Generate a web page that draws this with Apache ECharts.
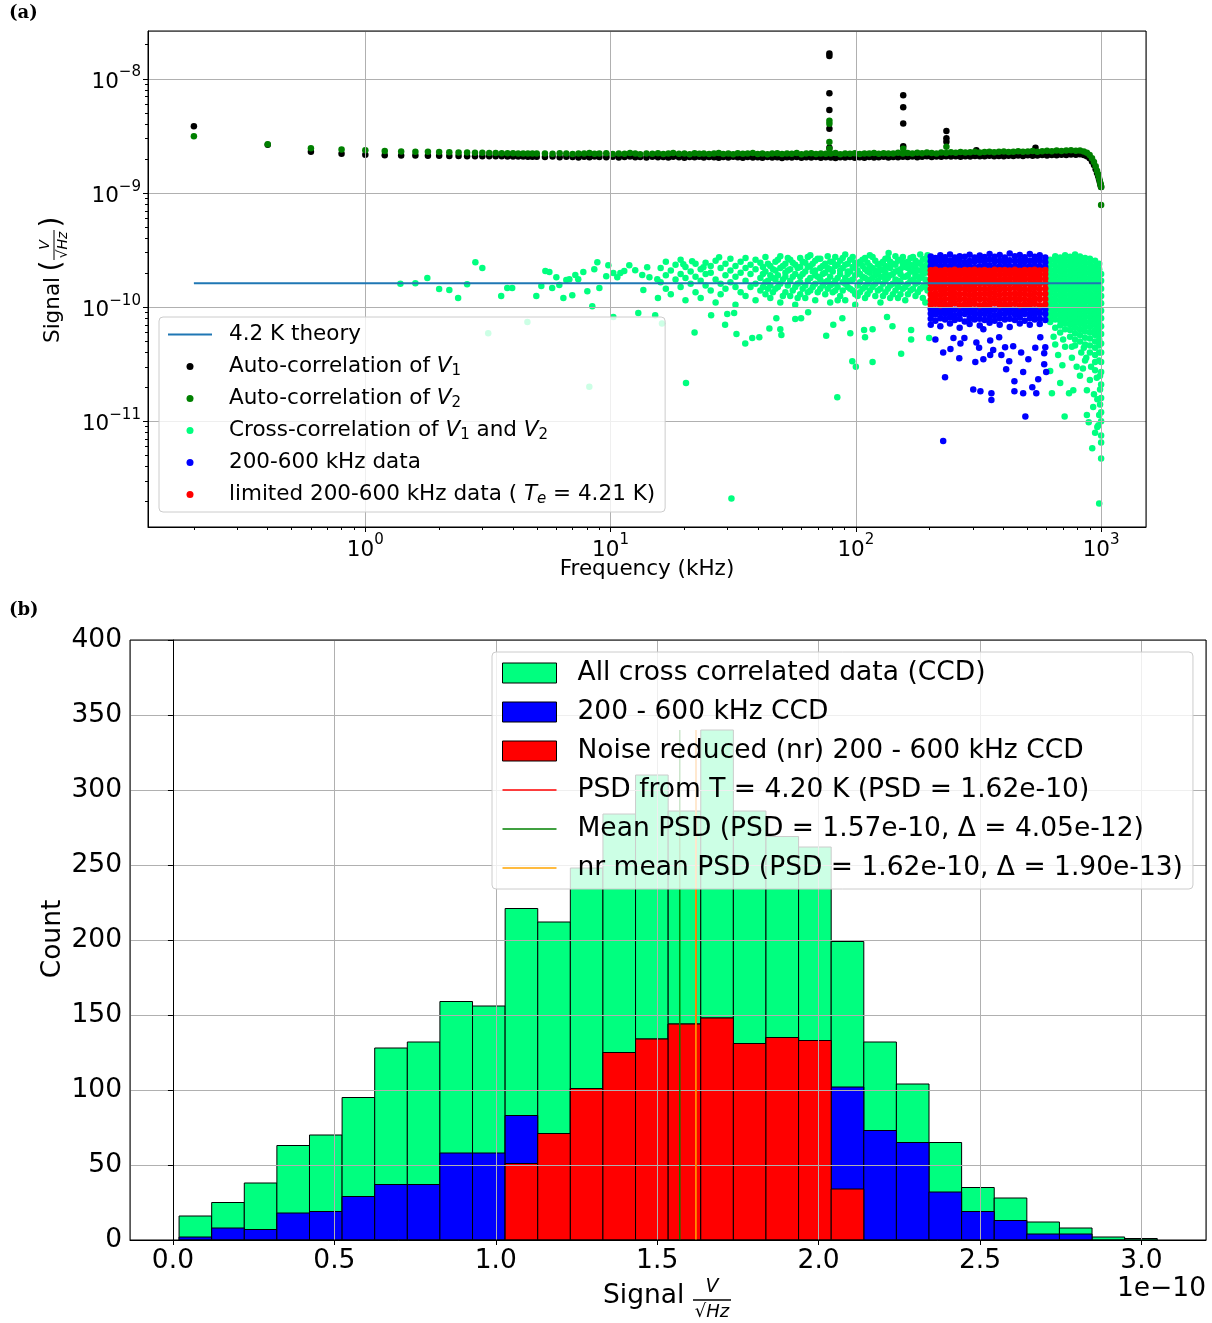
<!DOCTYPE html>
<html><head><meta charset="utf-8">
<script src="https://cdn.jsdelivr.net/npm/echarts@6/dist/echarts.min.js"></script>
<style>html,body{margin:0;padding:0;background:#fff}#c{width:1212px;height:1323px}</style>
</head><body><div id="c"></div><script>
// ---------------- DATA ----------------
// Panel (a): frequencies in kHz, auto-correlation in 1e-9 V/sqrt(Hz)
const autoFreq = [0.2,0.4,0.6,0.8,1.0,1.2,1.4,1.6,1.8,2.0,2.2,2.4,2.6,2.8,3.0,3.2,3.4,3.6,3.8,4.0,4.2,4.4,4.6,4.8,5.0,
5.4,5.8,6.2,6.6,7.0,7.4,7.8,8.2,8.6,9.0,
9.6,10.2,10.8,11.4,12,12.6,13.2,14,14.8,15.6,
16.4,17.2,18,19,20,21,22,23,24,25.2,
26.4,27.6,28.8,30.2,31.6,33,34.6,36.2,38,39.8,
41.6,43.6,45.6,47.8,50,52.4,54.8,57.4,60,62.8,
65.8,68.8,72,75.4,79,82.6,86.4,90.4,94.6,99,
103.6,108.4,113.4,118.6,124,129.8,135.8,142,148.6,155.4,
162.6,170,178,186.2,194.8,203.8,213.2,223,233.4,244.2,
255.4,267.2,279.6,292.6,306,320,334.8,350.2,366.4,383.2,
401,419.4,438.8,459,480.2,502.4,525.6,549.8,575.2,601.8,
629.6,658.6,689,720.8,754,788.8,820,850,875,898,
918,935,950,962,972,980,987,993,997,1000];
const autoV1 = [3.85,2.66,2.30,2.21,2.17,2.15,2.14,2.14,2.13,2.13,2.12,2.12,2.11,2.11,2.11,2.10,2.10,2.10,2.09,2.09,2.09,2.09,2.08,2.08,2.08,
2.07,2.09,2.06,2.08,2.07,2.05,2.08,2.06,2.09,2.07,
2.06,2.08,2.05,2.07,2.09,2.06,2.07,2.05,2.08,2.06,
2.07,2.05,2.08,2.06,2.04,2.07,2.06,2.08,2.05,2.07,
2.06,2.04,2.07,2.05,2.08,2.06,2.04,2.07,2.05,2.06,
2.04,2.07,2.05,2.06,2.03,2.06,2.05,2.07,2.04,2.06,
2.05,2.07,2.04,2.06,2.05,2.03,2.06,2.05,2.07,2.04,
2.06,2.04,2.07,2.05,2.06,2.08,2.05,2.07,2.06,2.08,
2.07,2.09,2.06,2.08,2.10,2.07,2.09,2.08,2.10,2.09,
2.10,2.08,2.11,2.09,2.12,2.10,2.11,2.13,2.10,2.12,
2.11,2.13,2.12,2.14,2.12,2.15,2.13,2.14,2.16,2.14,
2.16,2.15,2.17,2.16,2.18,2.17,2.19,2.16,2.10,2.02,
1.89,1.76,1.62,1.50,1.41,1.33,1.26,1.20,1.16,1.13];
const autoV2 = [3.15,2.68,2.48,2.41,2.37,2.34,2.32,2.31,2.30,2.29,2.28,2.27,2.27,2.26,2.26,2.25,2.25,2.24,2.24,2.24,2.23,2.23,2.23,2.23,2.23,
2.23,2.21,2.24,2.22,2.20,2.23,2.22,2.25,2.21,2.22,
2.24,2.20,2.23,2.21,2.25,2.22,2.19,2.23,2.21,2.24,
2.20,2.23,2.25,2.21,2.22,2.19,2.24,2.21,2.23,2.20,
2.22,2.25,2.20,2.23,2.19,2.24,2.21,2.22,2.25,2.20,
2.23,2.19,2.22,2.24,2.20,2.23,2.21,2.25,2.19,2.22,
2.24,2.20,2.23,2.21,2.22,2.25,2.19,2.23,2.21,2.24,
2.20,2.23,2.22,2.25,2.21,2.24,2.22,2.23,2.26,2.22,
2.25,2.23,2.26,2.24,2.27,2.25,2.23,2.27,2.25,2.28,
2.26,2.29,2.27,2.28,2.30,2.27,2.29,2.31,2.28,2.30,
2.32,2.29,2.31,2.33,2.30,2.32,2.34,2.31,2.33,2.35,
2.33,2.36,2.34,2.36,2.37,2.35,2.36,2.32,2.26,2.16,
2.02,1.87,1.72,1.57,1.46,1.37,1.29,1.22,1.17,1.13];
// isolated auto-correlation points [kHz, 1e-9]
const spikesV1 = [[78,16.8],[78,15.9],[78,7.5],[78,5.35],[78,3.66],[78,2.5],[156,7.2],[156,5.65],[156,4.08],[156,2.58],[234,3.5],[234,3.02],[234,2.82],[310,2.38],[540,2.5]];
const spikesV2 = [[78,4.3],[78,4.05],[78,2.8],[78,2.45],[156,2.45],[234,2.55],[1000,0.785]];

// theory line (kHz, V/sqrt(Hz))
const theoryFreq = [0.2, 1000];
const theoryPSD = 1.62e-10;

// cross-correlation, all values in 1e-10 V/sqrt(Hz)
const crossPoints = [[1.39,1.6],[1.6,1.62],[1.79,1.8],[2.0,1.44],[2.2,1.41],[2.39,1.2],[2.6,1.59],[2.81,2.48],[3.0,2.2],[3.17,0.59],[3.58,1.25],[3.79,1.47],[3.97,1.47],[4.58,0.74],[4.98,1.25],[5.22,1.53],[5.42,2.07],[5.63,2.03],[5.78,1.47],[6.01,1.83],[6.18,1.56],[6.42,1.2],[6.6,1.73],[6.79,1.76],[6.98,1.27],[7.18,1.91],[7.38,1.76],[7.74,2.03],[8.04,1.38],[8.19,0.2],[8.42,1.02],[8.58,2.15],[8.83,2.48],[9.0,1.47],[9.6,1.87],[9.79,2.33],[10.26,1.99],[10.26,0.82],[10.65,1.83],[10.96,1.99],[11.37,2.07],[11.92,2.33],[12.6,2.11],[12.97,0.89],[13.46,1.91],[13.6,1.41],[14.1,2.24],[14.4,1.83],[15.2,0.85],[15.5,1.76],[15.6,1.2],[16.2,0.72],[19.8,2.38],[20.3,0.216],[21.5,2.53],[22,0.6],[23.9,2.24],[25.7,0.85],[27.7,2.74],[29.3,0.7],[29.9,0.87],[31.1,0.021],[31.9,0.89],[32.6,0.58],[35.4,0.48],[37.8,0.535],[40.4,0.545],[44.4,0.65],[47.4,0.8],[49.2,0.64],[49.7,0.57],[56.6,0.785],[59.8,0.8],[63.9,0.9],[75.7,0.56],[80.9,0.7],[84,0.162],[88.1,0.8],[94.9,0.59],[96.7,0.336],[100,0.3],[108,0.63],[109,0.545],[117,0.33],[117,0.64],[134,0.82],[136,2.98],[141,0.68],[153,0.39],[168,0.52],[168,0.63],[199,0.535],
[620,0.275],[630,0.176],[681,0.216],[740,0.176],[710,0.11],[770,0.187],[875,0.187],[843,0.29],[795,0.3],[935,0.172],[965,0.156],[928,0.133],[875,0.113],[982,0.113],[890,0.098],[945,0.079],[920,0.058],[1000,0.047],[982,0.019],[975,0.092],[965,0.089],[900,0.23],[820,0.25],[668,0.38],[713,0.45],[783,0.46],[860,0.34],[945,0.28],[990,0.25],[990,0.19],[990,0.14],[760,0.36],[695,0.31],[650,0.47],[640,0.55],[700,0.52],[760,0.45],[830,0.4],[870,0.36],[960,0.24],[910,0.3],[850,0.44]];
const crossColumns = [
[16,[2.2,1.65]],[16.8,[1.9,1.45,2.5]],[17.6,[2.1,1.3]],[18.4,[1.75,2.35]],[19.3,[2.6,1.5,1.95]],[20.2,[1.8,2.25,1.15]],[21.2,[2.05,1.6]],[22.2,[2.4,1.35,1.85]],[23.3,[1.7,2.15,1.2]],[24.4,[2.45,1.55,1.95]],
[25.6,[2.0,1.4,2.3]],[26.8,[1.75,2.55,1.1]],[28.1,[2.2,1.6,1.3]],[29.4,[1.9,2.4,1.45]],[30.8,[2.1,1.65,2.65]],[32.3,[1.5,2.3,1.85,1.05]],[33.9,[2.0,1.35,2.5]],[35.5,[1.7,2.2,1.25,2.7]],[37.2,[1.95,1.5,2.35]],[39,[2.15,1.6,1.15,2.6]],
[40.8,[1.8,2.45,1.4]],[42.8,[2.05,1.3,2.75,1.65]],[44.8,[1.9,2.3,1.2,1.55]],[47,[2.5,1.75,1.45,2.1]],[49.2,[1.6,2.2,2.8,1.1]],[51.6,[2.0,1.35,1.85,2.4]],[54,[1.7,2.6,1.25,2.15]],[56.6,[1.95,1.5,2.35,1.05]],[59.3,[2.25,1.65,2.7,1.3,1.85]],[62.2,[1.55,2.05,2.45,1.2]],
[65.2,[1.8,2.3,1.4,2.85]],[68.3,[2.1,1.6,1.15,2.55,1.9]],[71.6,[1.45,2.2,1.75,2.65]],[75,[2.0,1.3,2.4,1.65]],[78.6,[1.85,2.5,1.1,1.55,2.15]],[82.4,[2.3,1.7,1.4,2.75]],[86.3,[1.95,1.25,2.1,2.55]],[90.5,[1.6,2.35,1.8,1.15,2.9]],[94.8,[2.05,1.45,2.6,1.7]],[99.4,[1.9,2.2,1.3,2.45,1.05]],
[104,[1.65,2.5,1.95,1.35]],[109,[2.15,1.5,2.7,1.8,1.2]],[114,[1.75,2.3,1.4,2.0,2.85]],[120,[2.1,1.6,2.55,1.25,1.9]],[126,[1.45,2.4,1.85,2.15,1.1]],[132,[2.0,1.7,2.65,1.35,2.3]],[138,[1.55,2.2,1.9,2.5,1.2]],[145,[2.35,1.75,1.4,2.05,2.8]],[152,[1.65,2.15,2.6,1.3,1.95]],[159,[2.45,1.5,1.85,2.25,1.15]],
[167,[1.7,2.05,2.7,1.4,2.35]],[175,[2.2,1.6,1.9,2.55,1.25]],[183,[1.8,2.4,1.45,2.1,2.9]],[192,[2.0,1.55,2.3,1.75,2.65,1.1]],
[41.8,[1.95,1.5,2.25]],[43.8,[1.7,2.4,1.45]],[45.9,[2.15,1.35,1.8]],[48.1,[1.9,2.6,1.5]],[50.4,[1.75,2.3,1.25]],[52.8,[2.1,1.55,2.7]],[55.3,[1.85,1.4,2.45]],[57.9,[2.2,1.6,1.2]],[60.7,[1.95,2.5,1.45]],[63.7,[1.7,2.25,1.35,2.75]],
[66.7,[2.05,1.5,2.4]],[69.9,[1.85,2.65,1.35]],[73.3,[2.3,1.55,1.95]],[76.8,[1.7,2.2,2.8,1.45]],[80.5,[2.05,1.35,2.5,1.6]],[84.3,[1.8,2.35,1.5,1.15]],[88.4,[2.2,1.65,2.7,1.4]],[92.6,[1.95,1.5,2.4,2.05]],[97.1,[1.75,2.25,2.75,1.4]],[101.7,[2.1,1.55,2.4,1.25]],
[106.5,[1.85,2.3,1.45,2.6]],[111.5,[2.05,1.6,2.45,1.3]],[117,[1.8,2.2,2.75,1.5]],[123,[2.35,1.7,2.0,1.4]],[129,[1.6,2.1,2.5,1.25,1.85]],[135,[2.25,1.8,1.45,2.7]],[141.5,[1.95,2.4,1.6,1.3]],[148.5,[2.1,1.7,2.55,1.5,1.2]],[155.5,[1.85,2.35,2.75,1.45]],[163,[2.2,1.6,2.5,1.3,1.9]],
[171,[1.75,2.3,1.45,2.75,2.05]],[179,[2.1,1.65,2.45,1.35,1.85]],[187.5,[1.95,2.6,1.5,2.25,1.2]],[196,[2.15,1.7,2.5,1.4,2.85]],
[620,[2.6,2.35,2.12,1.93,1.76,1.6,1.46,1.33,1.2,1.09,0.99,0.9,0.82,0.74]],
[650,[2.8,2.52,2.28,2.07,1.88,1.71,1.55,1.41,1.28,1.16,1.05,0.95,0.86,0.78,0.66]],
[681,[2.72,2.47,2.24,2.03,1.84,1.67,1.52,1.38,1.25,1.13,1.02,0.93,0.84,0.76,0.69,0.6]],
[713,[2.85,2.57,2.33,2.11,1.91,1.73,1.57,1.43,1.3,1.18,1.07,0.97,0.88,0.8,0.72,0.64]],
[747,[2.76,2.5,2.27,2.06,1.87,1.7,1.54,1.4,1.27,1.15,1.04,0.94,0.85,0.77,0.7,0.63,0.55]],
[783,[2.9,2.62,2.37,2.15,1.95,1.77,1.6,1.45,1.32,1.2,1.09,0.99,0.9,0.81,0.73,0.66,0.59,0.52]],
[820,[2.78,2.52,2.29,2.08,1.89,1.71,1.55,1.41,1.28,1.16,1.05,0.95,0.86,0.78,0.71,0.64,0.57,0.5]],
[860,[2.7,2.45,2.22,2.01,1.82,1.65,1.5,1.36,1.23,1.12,1.01,0.92,0.83,0.75,0.68,0.61,0.54,0.47]],
[900,[2.65,2.4,2.17,1.97,1.79,1.62,1.47,1.33,1.21,1.1,1.0,0.9,0.82,0.74,0.67,0.6,0.53,0.46,0.4]],
[945,[2.55,2.3,2.08,1.89,1.71,1.55,1.41,1.28,1.16,1.05,0.95,0.86,0.78,0.7,0.63,0.57,0.5,0.44,0.38,0.33]],
[982,[2.4,2.15,1.94,1.75,1.58,1.43,1.3,1.18,1.07,0.97,0.88,0.8,0.72,0.65,0.58,0.52,0.46,0.4,0.34]],
[1000,[1.95,1.7,1.45,1.25,1.08,0.93,0.8,0.68,0.58,0.48,0.4,0.33,0.27,0.21,0.16,0.12,0.1,0.075,0.065]]];
// 200-600 kHz data (1e-10)
const bandColumns = [
[202,[2.28,2.52,2.78,0.97,0.88,0.79,0.7]],[211,[2.24,2.46,2.7,0.95,0.86,0.76]],[221,[2.3,2.55,2.85,0.98,0.89,0.8,0.68]],[231,[2.26,2.5,2.74,0.96,0.87,0.78]],
[242,[2.29,2.57,2.9,0.97,0.9,0.81,0.72]],[253,[2.23,2.48,2.72,0.95,0.85,0.77]],[265,[2.31,2.58,2.8,0.98,0.88,0.79,0.66]],[278,[2.25,2.47,2.76,0.96,0.87,0.75]],
[291,[2.3,2.54,2.88,0.97,0.89,0.8,0.71]],[305,[2.24,2.5,2.73,0.95,0.86,0.78]],[320,[2.28,2.56,2.83,0.98,0.88,0.79,0.69]],[335,[2.26,2.49,2.75,0.96,0.87,0.77]],
[351,[2.32,2.6,2.92,0.97,0.9,0.81,0.73]],[368,[2.25,2.51,2.77,0.95,0.85,0.76]],[386,[2.29,2.55,2.86,0.98,0.88,0.8,0.7]],[405,[2.23,2.47,2.72,0.96,0.87,0.78]],
[424,[2.3,2.58,2.95,0.97,0.89,0.79,0.67]],[445,[2.27,2.52,2.79,0.95,0.86,0.77]],[466,[2.31,2.57,2.87,0.98,0.9,0.81,0.72]],[488,[2.24,2.49,2.74,0.96,0.87,0.76]],
[512,[2.29,2.56,2.93,0.97,0.88,0.8,0.7]],[536,[2.26,2.5,2.76,0.95,0.86,0.78]],[562,[2.3,2.58,2.85,0.98,0.89,0.79,0.71]],[592,[2.25,2.48,2.72,0.96,0.87,0.77]]];
const bandPoints = [[227,0.067],[231,0.243],[227,0.40],[243,0.43],[264,0.357],[211,0.52],[250,0.535],[277,0.535],[301,0.19],[322,0.183],[357,0.176],[357,0.153],[307,0.33],[331,0.35],[353,0.38],[392,0.38],[410,0.286],[443,0.224],[443,0.183],[481,0.176],[491,0.11],[524,0.198],[544,0.176],[554,0.233],[481,0.27],[422,0.336],[505,0.35],[586,0.316],[597,0.27],[592,0.445],[539,0.44],[472,0.40],[438,0.455],[406,0.445],[363,0.42],[331,0.64],[353,0.51],[384,0.545],[318,0.44],[267,0.48],[310,0.49],[565,0.545],[586,0.395]];
// limited 200-600 kHz data (1e-10)
const limitedColumns = [
[202,[1.05,1.16,1.29,1.44,1.6,1.76,1.93,2.11]],[211,[1.07,1.19,1.32,1.47,1.62,1.79,1.96,2.13]],[221,[1.04,1.15,1.28,1.42,1.57,1.73,1.9,2.08]],[231,[1.06,1.18,1.31,1.45,1.61,1.77,1.94,2.12]],
[242,[1.05,1.17,1.3,1.43,1.59,1.75,1.92,2.1]],[253,[1.08,1.2,1.33,1.48,1.63,1.8,1.97,2.13]],[265,[1.04,1.16,1.29,1.44,1.58,1.74,1.91,2.09]],[278,[1.06,1.18,1.31,1.46,1.62,1.78,1.95,2.12]],
[291,[1.05,1.15,1.28,1.42,1.58,1.75,1.92,2.11]],[305,[1.07,1.19,1.32,1.46,1.61,1.77,1.94,2.13]],[320,[1.04,1.17,1.3,1.44,1.6,1.76,1.93,2.1]],[335,[1.06,1.18,1.31,1.45,1.62,1.79,1.96,2.12]],
[351,[1.05,1.16,1.29,1.43,1.59,1.75,1.91,2.09]],[368,[1.08,1.2,1.33,1.47,1.63,1.78,1.95,2.13]],[386,[1.04,1.15,1.28,1.42,1.57,1.74,1.92,2.11]],[405,[1.06,1.18,1.31,1.46,1.61,1.77,1.94,2.12]],
[424,[1.05,1.17,1.3,1.44,1.6,1.76,1.93,2.1]],[445,[1.07,1.19,1.32,1.47,1.62,1.79,1.96,2.13]],[466,[1.04,1.16,1.29,1.43,1.58,1.75,1.91,2.09]],[488,[1.06,1.18,1.31,1.45,1.61,1.77,1.94,2.12]],
[512,[1.05,1.15,1.28,1.42,1.59,1.76,1.93,2.11]],[536,[1.07,1.19,1.33,1.48,1.63,1.8,1.97,2.13]],[562,[1.04,1.17,1.3,1.44,1.6,1.76,1.92,2.1]],[592,[1.06,1.18,1.31,1.46,1.62,1.78,1.95,2.12]]];

// Panel (b): histogram (signal in 1e-10 V/sqrt(Hz))
const binEdges = [0.019,0.120,0.221,0.322,0.423,0.524,0.625,0.726,0.827,0.928,1.029,1.130,1.231,1.332,1.433,1.534,1.635,1.736,1.837,1.938,2.039,2.140,2.241,2.342,2.443,2.544,2.645,2.746,2.847,2.948,3.049];
const countsAll = [16,25,38,63,70,95,128,132,159,156,221,212,248,284,310,286,340,286,269,262,199,132,104,65,35,28,12,8,2,1];
const countsBand = [2,8,7,18,19,29,37,37,58,58,83,71,101,125,134,144,148,131,135,133,102,73,65,32,19,13,4,4,0,0];
const countsLimited = [0,0,0,0,0,0,0,0,0,0,51,71,101,125,134,144,148,131,135,133,34,0,0,0,0,0,0,0,0,0];
const psdTheory = 1.62;   // 1e-10
const psdMean = 1.57;
const psdNrMean = 1.62;

// ---------------- CHART ----------------
const FONT = 'DejaVu Sans';
const colPts = (cols, unit) => cols.flatMap(([f, vals]) => vals.map(v => [f, v * unit]));
const pairPts = (list, unit) => list.map(([f, v]) => [f, v * unit]);
const autoPts = (vals) => autoFreq.map((f, i) => [f, vals[i] * 1e-9]);

const minorX = [], minorY = [];
for (let d = -1; d <= 3; d++) for (let k = 2; k <= 9; k++) minorX.push(k * Math.pow(10, d));
for (let d = -12; d <= -8; d++) for (let k = 2; k <= 9; k++) minorY.push(k * Math.pow(10, d));

const supRich = (fs) => ({
  b: {fontFamily: FONT, fontSize: fs, lineHeight: 28, verticalAlign: 'bottom', color: '#000'},
  s: {fontFamily: FONT, fontSize: fs * 0.7, lineHeight: 14, verticalAlign: 'top', color: '#000'}
});
const logLabel = v => {
  const e = Math.log10(v), r = Math.round(e);
  if (Math.abs(e - r) > 1e-6) return '';
  return '{b|10}{s|' + (r < 0 ? '\u2212' : '') + Math.abs(r) + '}';
};

const N = {
  th: '4.2 K theory', v1: 'Auto-correlation of V1', v2: 'Auto-correlation of V2',
  cc: 'Cross-correlation of V1 and V2', bd: '200-600 kHz data', lm: 'limited 200-600 kHz data',
  hA: 'All cross correlated data (CCD)', hB: '200 - 600 kHz CCD', hL: 'Noise reduced (nr) 200 - 600 kHz CCD',
  lT: 'PSD from T = 4.20 K (PSD = 1.62e-10)', lM: 'Mean PSD (PSD = 1.57e-10, \u0394 = 4.05e-12)', lN: 'nr mean PSD (PSD = 1.62e-10, \u0394 = 1.90e-13)'
};
const topLabels = {};
topLabels[N.th] = '4.2 K theory';
topLabels[N.v1] = 'Auto-correlation of {i|V}{sub|1}';
topLabels[N.v2] = 'Auto-correlation of {i|V}{sub|2}';
topLabels[N.cc] = 'Cross-correlation of {i|V}{sub|1} and {i|V}{sub|2}';
topLabels[N.bd] = '200-600 kHz data';
topLabels[N.lm] = 'limited 200-600 kHz data ( {i|T}{isub|e} = 4.21 K)';

const scatter = (name, data, color, z) => ({
  type: 'scatter', name, xAxisIndex: 0, yAxisIndex: 0, data, symbol: 'circle', symbolSize: 6.5,
  itemStyle: {color, opacity: 1}, z, progressive: 0, large: false, silent: true, emphasis: {disabled: true}
});

const histSeries = (name, counts, color, z) => ({
  type: 'custom', name, xAxisIndex: 1, yAxisIndex: 1, z, silent: true,
  itemStyle: {color, borderColor: '#000', borderWidth: 1},
  data: counts.map((c, i) => [binEdges[i], binEdges[i + 1], c]).filter(d => d[2] > 0),
  encode: {x: [0, 1], y: 2},
  renderItem: (params, api) => {
    const p0 = api.coord([api.value(0), 0]);
    const p1 = api.coord([api.value(1), api.value(2)]);
    return {type: 'rect', shape: {x: p0[0], y: p1[1], width: p1[0] - p0[0], height: p0[1] - p1[1]},
      style: {fill: color, stroke: '#000', lineWidth: 1}};
  }
});
const maxCount = Math.max(...countsAll);
const vline = (name, x, color, z) => ({
  type: 'line', name, xAxisIndex: 1, yAxisIndex: 1, data: [[x, 0], [x, maxCount]], symbol: 'none', z,
  lineStyle: {color, width: 1.5}, itemStyle: {color}, silent: true, animation: false
});

const axisCommon = {
  axisLine: {show: true, lineStyle: {color: '#000', width: 1}},
  axisTick: {show: true, inside: false, length: 5, lineStyle: {color: '#000', width: 1}},
  splitLine: {show: true, lineStyle: {color: '#b0b0b0', width: 1}}
};
const lineIconTop = 'path://M0,0H44V2H0Z';
const lineIconBottom = 'path://M0,0H54V1.5H0Z';

const option = {
  animation: false,
  backgroundColor: '#fff',
  grid: [
    {left: 148, top: 31, width: 998, height: 496, show: true, borderColor: '#000', borderWidth: 1, backgroundColor: 'transparent', z: 6},
    {left: 130, top: 640, width: 1076, height: 600, show: true, borderColor: '#000', borderWidth: 1, backgroundColor: 'transparent', z: 6}
  ],
  xAxis: [
    Object.assign({}, axisCommon, {gridIndex: 0, type: 'log', logBase: 10, min: 0.13, max: 1524, position: 'bottom', z: 3,
      axisLabel: {formatter: logLabel, margin: 6, rich: supRich(21.5), showMinLabel: false, showMaxLabel: false}}),
    Object.assign({}, axisCommon, {gridIndex: 1, type: 'value', min: -0.133, max: 3.2, splitNumber: 7, position: 'bottom', z: 3,
      axisLabel: {formatter: v => v.toFixed(1), margin: 8, color: '#000', fontFamily: FONT, fontSize: 26.5, showMinLabel: false, showMaxLabel: false}}),
    {gridIndex: 0, type: 'log', logBase: 10, min: 0.13, max: 1524, position: 'bottom', z: 3,
      axisLine: {show: false}, axisLabel: {show: false}, splitLine: {show: false},
      axisTick: {show: true, length: 3, lineStyle: {color: '#000'}, customValues: minorX}}
  ],
  yAxis: [
    Object.assign({}, axisCommon, {gridIndex: 0, type: 'log', logBase: 10, min: 1.18e-12, max: 2.64e-8, position: 'left', z: 3,
      axisLabel: {formatter: logLabel, margin: 7, rich: supRich(21.5), showMinLabel: false, showMaxLabel: false}}),
    Object.assign({}, axisCommon, {gridIndex: 1, type: 'value', min: 0, max: 400, interval: 50, position: 'left', z: 3,
      axisLabel: {margin: 8, color: '#000', fontFamily: FONT, fontSize: 26.5}}),
    {gridIndex: 0, type: 'log', logBase: 10, min: 1.18e-12, max: 2.64e-8, position: 'left', z: 3,
      axisLine: {show: false}, axisLabel: {show: false}, splitLine: {show: false},
      axisTick: {show: true, length: 3, lineStyle: {color: '#000'}, customValues: minorY}}
  ],
  legend: [
    {orient: 'vertical', left: 159, top: 317, padding: [5, 10, 5, 9], itemWidth: 44, itemHeight: 7, itemGap: 7,
      selectedMode: false, backgroundColor: 'rgba(255,255,255,0.8)', borderColor: '#cccccc', borderWidth: 1, borderRadius: 4, z: 8,
      data: [{name: N.th, icon: lineIconTop}, {name: N.v1, icon: 'circle'}, {name: N.v2, icon: 'circle'}, {name: N.cc, icon: 'circle'}, {name: N.bd, icon: 'circle'}, {name: N.lm, icon: 'circle'}],
      formatter: name => topLabels[name],
      textStyle: {fontFamily: FONT, fontSize: 21.5, color: '#000', lineHeight: 25, padding: [0, 0, 0, 12],
        rich: {i: {fontFamily: FONT, fontStyle: 'italic', fontSize: 21.5, lineHeight: 25},
               sub: {fontFamily: FONT, fontSize: 15, lineHeight: 12, verticalAlign: 'bottom'},
               isub: {fontFamily: FONT, fontStyle: 'italic', fontSize: 15, lineHeight: 12, verticalAlign: 'bottom'}}}},
    {orient: 'vertical', left: 492, top: 652, padding: [6, 10, 6, 10], itemWidth: 54, itemHeight: 20, itemGap: 9,
      selectedMode: false, backgroundColor: 'rgba(255,255,255,0.8)', borderColor: '#cccccc', borderWidth: 1, borderRadius: 4, z: 8,
      data: [{name: N.hA, icon: 'rect', itemStyle: {borderColor: '#000', borderWidth: 1}},
             {name: N.hB, icon: 'rect', itemStyle: {borderColor: '#000', borderWidth: 1}},
             {name: N.hL, icon: 'rect', itemStyle: {borderColor: '#000', borderWidth: 1}},
             {name: N.lT, icon: lineIconBottom}, {name: N.lM, icon: lineIconBottom}, {name: N.lN, icon: lineIconBottom}],
      textStyle: {fontFamily: FONT, fontSize: 26.5, color: '#000', lineHeight: 30, padding: [0, 0, 0, 16]}}
  ],
  series: [
    {type: 'line', name: N.th, xAxisIndex: 0, yAxisIndex: 0, data: theoryFreq.map(f => [f, theoryPSD]), symbol: 'none', z: 4,
      lineStyle: {color: '#1f77b4', width: 2}, itemStyle: {color: '#1f77b4'}, silent: true},
    scatter(N.v1, autoPts(autoV1).concat(pairPts(spikesV1, 1e-9)), '#000000', 2),
    scatter(N.v2, autoPts(autoV2).concat(pairPts(spikesV2, 1e-9)), '#008000', 2),
    scatter(N.cc, pairPts(crossPoints, 1e-10).concat(colPts(crossColumns, 1e-10)), '#00ff7f', 2),
    scatter(N.bd, colPts(bandColumns, 1e-10).concat(pairPts(bandPoints, 1e-10)), '#0000ff', 2),
    scatter(N.lm, colPts(limitedColumns, 1e-10), '#ff0000', 2),
    histSeries(N.hA, countsAll, '#00ff7f', 1),
    histSeries(N.hB, countsBand, '#0000ff', 1),
    histSeries(N.hL, countsLimited, '#ff0000', 1),
    vline(N.lT, psdTheory, '#ff0000', 4),
    vline(N.lM, psdMean, '#008000', 4),
    vline(N.lN, psdNrMean, '#ffa500', 4)
  ],
  graphic: [
    {type: 'text', left: 9, top: 4, style: {text: '(a)', font: 'bold 18px "DejaVu Serif"', fill: '#000'}},
    {type: 'text', left: 9, top: 601, style: {text: '(b)', font: 'bold 18px "DejaVu Serif"', fill: '#000'}},
    {type: 'text', x: 647, y: 569, style: {text: 'Frequency (kHz)', font: '21.5px "DejaVu Sans"', fill: '#000', align: 'center', verticalAlign: 'middle'}},
    {type: 'text', x: 53, y: 939, rotation: Math.PI / 2, style: {text: 'Count', font: '26.5px "DejaVu Sans"', fill: '#000', align: 'center', verticalAlign: 'middle'}},
    {type: 'text', x: 1206, y: 1289, style: {text: '1e\u221210', font: '26.5px "DejaVu Sans"', fill: '#000', align: 'right', verticalAlign: 'middle'}},
    {type: 'text', x: 603, y: 1296, style: {text: 'Signal', font: '26.5px "DejaVu Sans"', fill: '#000', align: 'left', verticalAlign: 'middle'}},
    {type: 'text', x: 712, y: 1287, style: {text: 'V', font: 'italic 19px "DejaVu Sans"', fill: '#000', align: 'center', verticalAlign: 'middle'}},
    {type: 'line', shape: {x1: 693, y1: 1300, x2: 731, y2: 1300}, style: {stroke: '#000', lineWidth: 1.5}},
    {type: 'text', x: 712, y: 1312, style: {text: '\u221aHz', font: 'italic 18px "DejaVu Sans"', fill: '#000', align: 'center', verticalAlign: 'middle'}},
    {type: 'group', x: 53, y: 279, rotation: Math.PI / 2, children: [
      {type: 'text', x: -64, y: 0, style: {text: 'Signal', font: '21.5px "DejaVu Sans"', fill: '#000', align: 'left', verticalAlign: 'middle'}},
      {type: 'text', x: 13, y: 0, style: {text: '(', font: '28px "DejaVu Sans"', fill: '#000', align: 'center', verticalAlign: 'middle'}},
      {type: 'text', x: 34, y: -8, style: {text: 'V', font: 'italic 14px "DejaVu Sans"', fill: '#000', align: 'center', verticalAlign: 'middle'}},
      {type: 'line', shape: {x1: 19, y1: 1, x2: 49, y2: 1}, style: {stroke: '#000', lineWidth: 1}},
      {type: 'text', x: 34, y: 10, style: {text: '\u221aHz', font: 'italic 14px "DejaVu Sans"', fill: '#000', align: 'center', verticalAlign: 'middle'}},
      {type: 'text', x: 57, y: 0, style: {text: ')', font: '28px "DejaVu Sans"', fill: '#000', align: 'center', verticalAlign: 'middle'}}
    ]}
  ]
};

const chart = echarts.init(document.getElementById('c'), null, {renderer: 'canvas', width: 1212, height: 1323});
chart.setOption(option);
</script></body></html>
